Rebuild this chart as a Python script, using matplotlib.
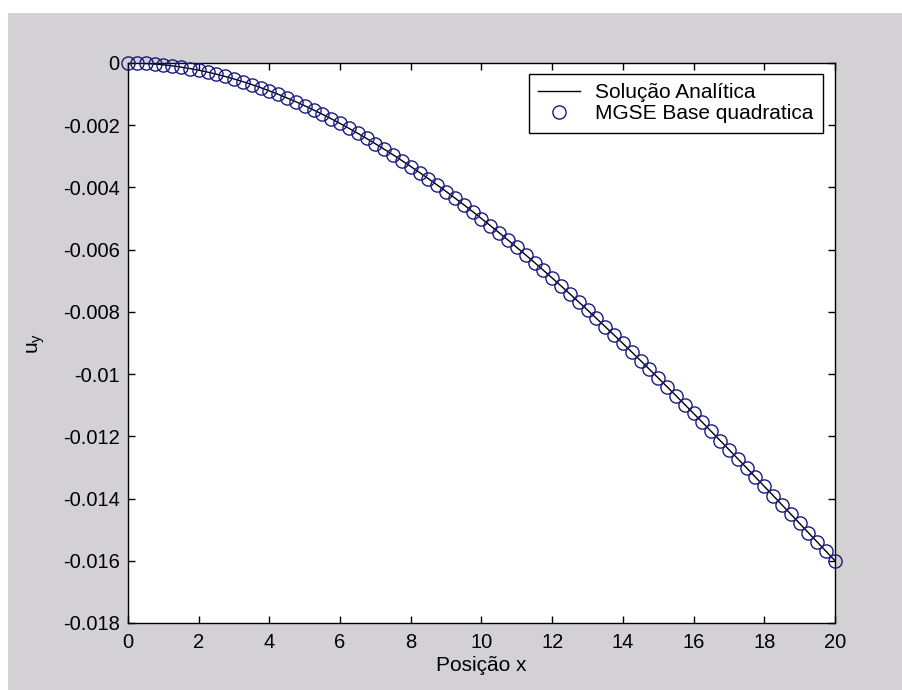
import matplotlib
matplotlib.use("Agg")
import matplotlib.pyplot as plt
from matplotlib.patches import Rectangle

plt.rcParams['font.family'] = ['Liberation Sans', 'DejaVu Sans']

# Posição x (nodes)
x_pos = [0.0, 0.25, 0.5, 0.75, 1.0, 1.25, 1.5, 1.75, 2.0, 2.25, 2.5, 2.75,
         3.0, 3.25, 3.5, 3.75, 4.0, 4.25, 4.5, 4.75, 5.0, 5.25, 5.5, 5.75,
         6.0, 6.25, 6.5, 6.75, 7.0, 7.25, 7.5, 7.75, 8.0, 8.25, 8.5, 8.75,
         9.0, 9.25, 9.5, 9.75, 10.0, 10.25, 10.5, 10.75, 11.0, 11.25, 11.5, 11.75,
         12.0, 12.25, 12.5, 12.75, 13.0, 13.25, 13.5, 13.75, 14.0, 14.25, 14.5, 14.75,
         15.0, 15.25, 15.5, 15.75, 16.0, 16.25, 16.5, 16.75, 17.0, 17.25, 17.5, 17.75,
         18.0, 18.25, 18.5, 18.75, 19.0, 19.25, 19.5, 19.75, 20.0]

# u_y values in units of 1e-3
uy_milli = [0.0, -0.0037, -0.0149, -0.0333, -0.0590, -0.0918, -0.1316, -0.1784,
            -0.2320, -0.2924, -0.3594, -0.4330, -0.5130, -0.5994, -0.6921, -0.7910,
            -0.8960, -1.0070, -1.1239, -1.2466, -1.3750, -1.5091, -1.6486, -1.7936,
            -1.9440, -2.0996, -2.2604, -2.4262, -2.5970, -2.7727, -2.9531, -3.1383,
            -3.3280, -3.5222, -3.7209, -3.9238, -4.1310, -4.3423, -4.5576, -4.7769,
            -5.0000, -5.2269, -5.4574, -5.6915, -5.9290, -6.1699, -6.4141, -6.6615,
            -6.9120, -7.1655, -7.4219, -7.6811, -7.9430, -8.2076, -8.4746, -8.7441,
            -9.0160, -9.2901, -9.5664, -9.8447, -10.1250, -10.4072, -10.6911, -10.9768,
            -11.2640, -11.5527, -11.8429, -12.1343, -12.4270, -12.7208, -13.0156, -13.3114,
            -13.6080, -13.9054, -14.2034, -14.5020, -14.8010, -15.1004, -15.4001, -15.7000,
            -16.0000]
uy = [v * 1e-3 for v in uy_milli]

x_ticks = [0, 2, 4, 6, 8, 10, 12, 14, 16, 18, 20]
x_ticklabels = ['0', '2', '4', '6', '8', '10', '12', '14', '16', '18', '20']
y_ticks = [0, -0.002, -0.004, -0.006, -0.008, -0.01, -0.012, -0.014, -0.016, -0.018]
y_ticklabels = ['0', '-0.002', '-0.004', '-0.006', '-0.008', '-0.01', '-0.012',
                '-0.014', '-0.016', '-0.018']

W, H = 903, 690
fig = plt.figure(figsize=(W / 100, H / 100), dpi=100, facecolor='white')
gray = '#d3d1d3'
fig.patches.append(Rectangle((8 / W, 0), 1 - 8 / W, 1 - 13 / H,
                             transform=fig.transFigure, facecolor=gray,
                             edgecolor='none', zorder=-10))

ax = fig.add_axes([128 / W, 1 - 623 / H, (835 - 128) / W, (623 - 63) / H])
ax.set_facecolor('white')

ax.plot(x_pos, uy, color='black', linewidth=1.0, label='Solução Analítica', zorder=2)
ax.plot(x_pos, uy, linestyle='none', marker='o', markersize=9.5,
        markerfacecolor='none', markeredgecolor='#1a1a80', markeredgewidth=1.0,
        label='MGSE Base quadratica', zorder=3, clip_on=False)

ax.set_xlim(0, 20)
ax.set_ylim(-0.018, 0)
ax.set_xticks(x_ticks)
ax.set_xticklabels(x_ticklabels)
ax.set_yticks(y_ticks)
ax.set_yticklabels(y_ticklabels)

ax.tick_params(direction='in', length=5, width=1.0, top=True, right=True,
               labelsize=14.5, pad=7, colors='black')
ax.tick_params(axis='y', pad=6)
for s in ax.spines.values():
    s.set_linewidth(1.0)
    s.set_color('black')

ax.set_xlabel('Posição x', fontsize=15, labelpad=3)
ax.set_ylabel('u$_\\mathregular{y}$', fontsize=15)
ax.yaxis.set_label_coords(-0.115, 0.5)

leg = ax.legend(loc='upper right', bbox_to_anchor=(823 / W, 1 - 74 / H),
                bbox_transform=fig.transFigure, fontsize=15, frameon=True,
                fancybox=False, edgecolor='black', framealpha=1,
                handlelength=2.0, handletextpad=0.75, borderpad=0.45,
                labelspacing=0.1, borderaxespad=0)
leg.get_frame().set_linewidth(1.0)

fig.savefig('out.png', dpi=100, facecolor=fig.get_facecolor())
